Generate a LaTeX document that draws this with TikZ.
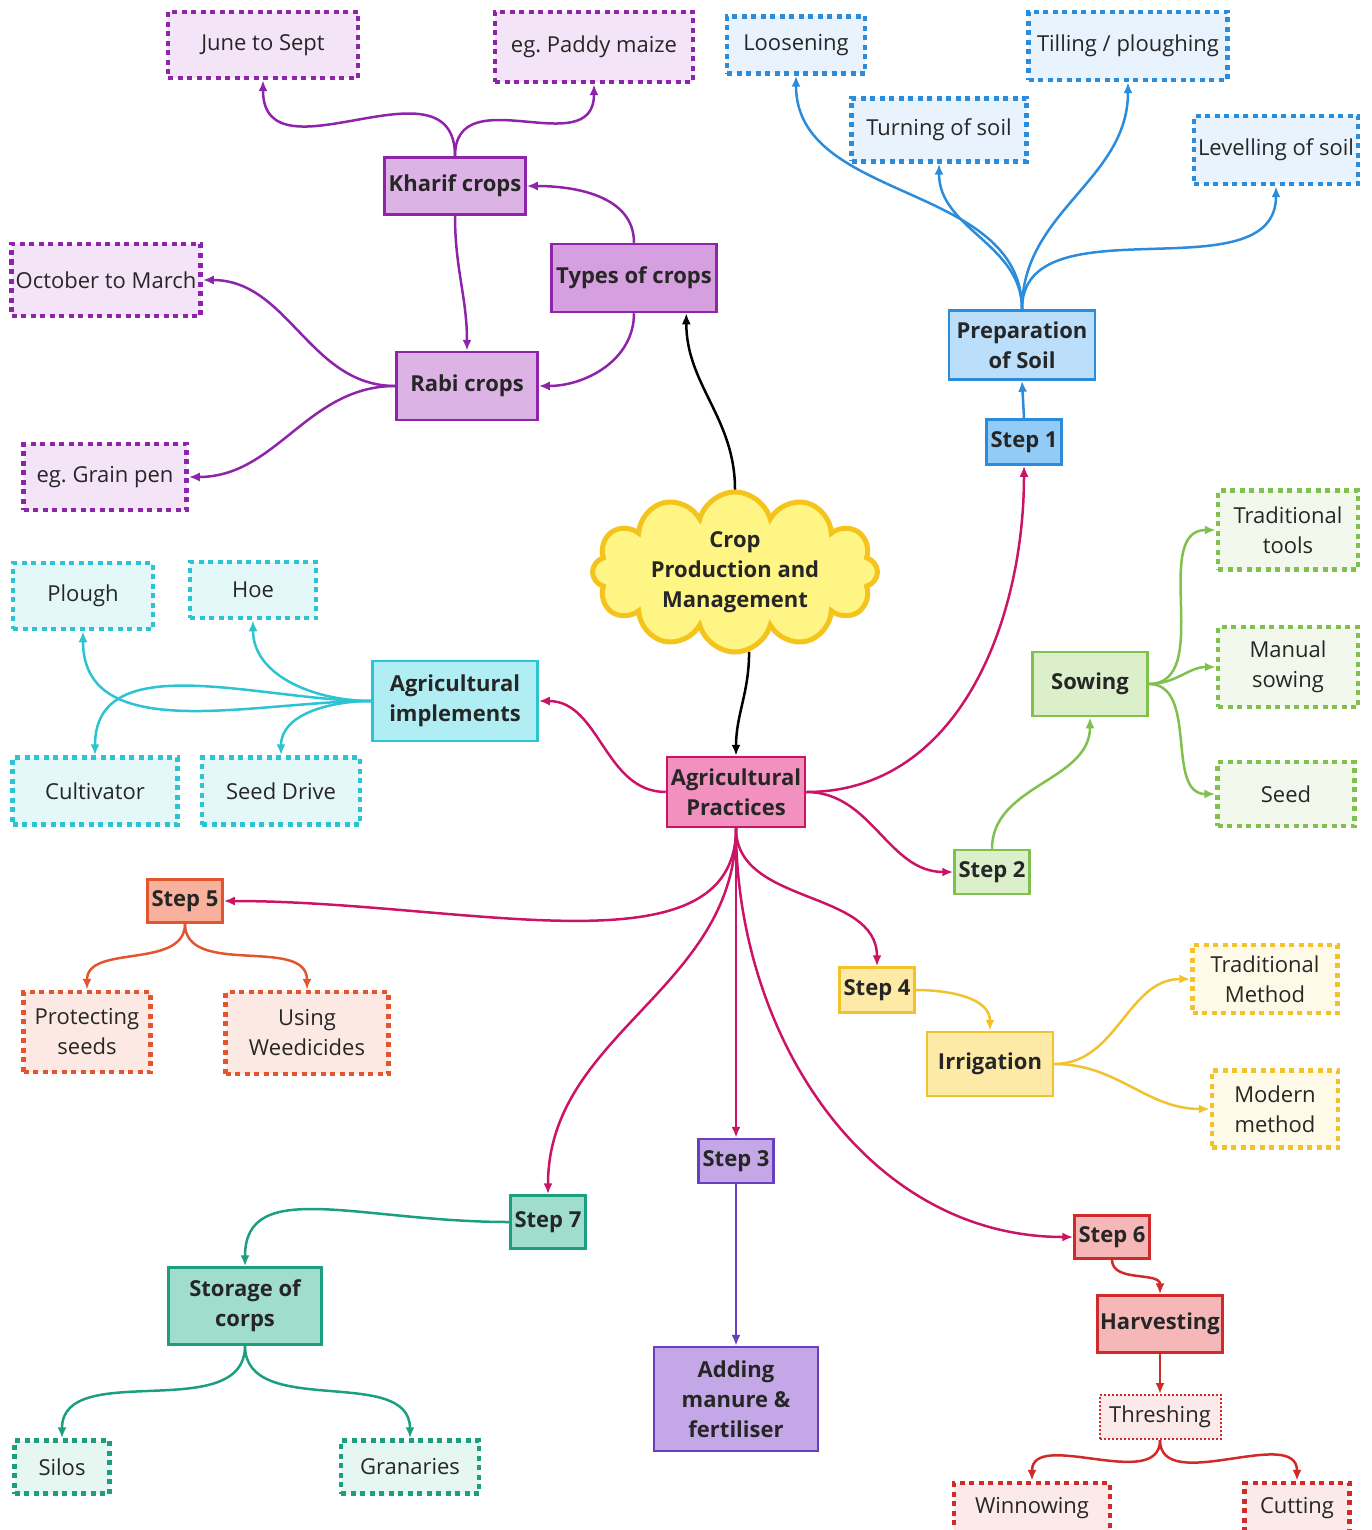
\documentclass[tikz,border=0pt]{standalone}
\usepackage{fontspec}
\setmainfont{Open Sans}
\usetikzlibrary{arrows.meta,shapes.symbols}

\definecolor{purpline}{HTML}{8E24AA}
\definecolor{purpfill}{HTML}{DDB3E5}
\definecolor{purptype}{HTML}{D69FDF}
\definecolor{purpleaf}{HTML}{F4E4F7}
\definecolor{blueline}{HTML}{2A8CDB}
\definecolor{bluefill}{HTML}{BBDEFB}
\definecolor{bluestep}{HTML}{93CBF7}
\definecolor{blueleaf}{HTML}{E8F3FD}
\definecolor{greenline}{HTML}{80C04C}
\definecolor{greenfill}{HTML}{DCEFCB}
\definecolor{greenleaf}{HTML}{F2F9EC}
\definecolor{cyanline}{HTML}{2CC4D2}
\definecolor{cyanfill}{HTML}{B0EEF4}
\definecolor{cyanleaf}{HTML}{E4F8FA}
\definecolor{pinkline}{HTML}{CC1466}
\definecolor{pinkfill}{HTML}{F290BF}
\definecolor{orangeline}{HTML}{E2552F}
\definecolor{orangefill}{HTML}{F7B19D}
\definecolor{orangeleaf}{HTML}{FDE9E3}
\definecolor{yellowline}{HTML}{F2C22C}
\definecolor{yellowfill}{HTML}{FDEAA6}
\definecolor{yellowleaf}{HTML}{FFFAE8}
\definecolor{violetline}{HTML}{6A3FBE}
\definecolor{violetfill}{HTML}{C4A7E6}
\definecolor{tealline}{HTML}{1C9E80}
\definecolor{tealfill}{HTML}{A0DDCC}
\definecolor{tealleaf}{HTML}{E6F6F1}
\definecolor{redline}{HTML}{D12A2A}
\definecolor{redfill}{HTML}{F5B7B7}
\definecolor{redleaf}{HTML}{FCE9E9}
\definecolor{cloudline}{HTML}{F4C41C}
\definecolor{cloudfill}{HTML}{FFF584}

\tikzset{
	box/.style n args={2}{rectangle, draw=#1, fill=#2, line width=2.5pt, align=center, inner sep=2pt, text=black!85, font=\bfseries\fontsize{22}{30}\selectfont},
	leaf/.style n args={2}{rectangle, draw=#1, fill=#2, line width=4.5pt, dash pattern=on 5pt off 4.5pt, align=center, inner sep=2pt, text=black!85, font=\fontsize{22}{30}\selectfont},
	sz/.style 2 args={minimum width=#1, minimum height=#2},
	link/.style={draw=#1, line width=2.5pt, -{Latex[length=11pt,width=9pt]}},
}

\begin{document}
\begin{tikzpicture}[x=1pt, y=-1pt]
	\useasboundingbox (0,0) rectangle (1371,1530);

	%%the centre
	\node[cloud, cloud puffs=12, aspect=1.8, draw=cloudline, fill=cloudfill, line width=5pt, inner xsep=-8pt, inner ysep=-28pt, sz={285}{160}, align=center, text=black!85, font=\bfseries\fontsize{22}{30}\selectfont] (crop) at (735,572){Crop\\Production and\\Management};
	\node[box={pinkline}{pinkfill}, sz={138}{70}] (agri) at (736,792){Agricultural\\Practices};

	%%types of crops
	\node[leaf={purpline}{purpleaf}, sz={190}{66}] (june) at (263,45){June to Sept};
	\node[leaf={purpline}{purpleaf}, sz={198}{70}] (paddy) at (594,47){eg.\ Paddy maize};
	\node[box={purpline}{purpfill}, sz={141}{57}] (kharif) at (455,186){Kharif crops};
	\node[box={purpline}{purptype}, sz={165}{68}] (types) at (634,278){Types of crops};
	\node[leaf={purpline}{purpleaf}, sz={189}{72}] (october) at (106,280){October to March};
	\node[box={purpline}{purpfill}, sz={141}{68}] (rabi) at (467,386){Rabi crops};
	\node[leaf={purpline}{purpleaf}, sz={163}{66}] (grain) at (105,477){eg.\ Grain pen};

	\draw[link=black] (crop.north) to[out=90, in=-90] (types.-34);
	\draw[link=black] (crop.-80) to[out=-90, in=90] (agri.north);
	\draw[link=purpline] (types.north) to[out=90, in=0] (kharif.east);
	\draw[link=purpline] (types.south) to[out=-90, in=0] (rabi.east);
	\draw[link=purpline] (kharif.south) to[out=-90, in=90] (rabi.north);
	\draw[link=purpline] (kharif.north) to[out=90, in=-90, looseness=1.3] (june.south);
	\draw[link=purpline] (kharif.north) to[out=90, in=-90, looseness=1.3] (paddy.south);
	\draw[link=purpline] (rabi.west) to[out=180, in=0] (october.east);
	\draw[link=purpline] (rabi.west) to[out=180, in=0] (grain.east);

	%%step 1
	\node[leaf={blueline}{blueleaf}, sz={138}{57}] (loosen) at (796,45){Loosening};
	\node[leaf={blueline}{blueleaf}, sz={199}{68}] (tilling) at (1128,46){Tilling / ploughing};
	\node[leaf={blueline}{blueleaf}, sz={175}{63}] (turning) at (939,130){Turning of soil};
	\node[leaf={blueline}{blueleaf}, sz={164}{68}] (level) at (1276,150){Levelling of soil};
	\node[box={blueline}{bluefill}, sz={146}{69}] (prep) at (1022,345){Preparation\\of Soil};
	\node[box={blueline}{bluestep}, sz={75}{45}] (stepA) at (1024,442){Step 1};

	\draw[link=pinkline] (agri.east) to[out=0, in=-90] (stepA.south);
	\draw[link=blueline] (stepA.north) to (prep.south);
	\draw[link=blueline] (prep.north) to[out=90, in=-90] (loosen.south);
	\draw[link=blueline] (prep.north) to[out=90, in=-90] (turning.south);
	\draw[link=blueline] (prep.north) to[out=90, in=-90] (tilling.south);
	\draw[link=blueline] (prep.north) to[out=90, in=-90] (level.south);

	%%step 2
	\node[leaf={greenline}{greenleaf}, sz={140}{79}] (tools) at (1288,530){Traditional\\tools};
	\node[leaf={greenline}{greenleaf}, sz={140}{80}] (manual) at (1288,667){Manual\\sowing};
	\node[leaf={greenline}{greenleaf}, sz={137}{64}] (seed) at (1286,794){Seed};
	\node[box={greenline}{greenfill}, sz={115}{64}] (sowing) at (1090,684){Sowing};
	\node[box={greenline}{greenfill}, sz={75}{44}] (stepB) at (992,872){Step 2};

	\draw[link=pinkline] (agri.east) to[out=0, in=180] (stepB.west);
	\draw[link=greenline] (stepB.north) to[out=90, in=-90] (sowing.south);
	\draw[link=greenline] (sowing.east) to[out=0, in=180] (tools.west);
	\draw[link=greenline] (sowing.east) to[out=0, in=180] (manual.west);
	\draw[link=greenline] (sowing.east) to[out=0, in=180] (seed.west);

	%%implements
	\node[leaf={cyanline}{cyanleaf}, sz={140}{66}] (plough) at (83,596){Plough};
	\node[leaf={cyanline}{cyanleaf}, sz={126}{56}] (hoe) at (253,590){Hoe};
	\node[leaf={cyanline}{cyanleaf}, sz={165}{67}] (cultiv) at (95,791){Cultivator};
	\node[leaf={cyanline}{cyanleaf}, sz={158}{67}] (drive) at (281,791){Seed Drive};
	\node[box={cyanline}{cyanfill}, sz={165}{80}] (implem) at (455,701){Agricultural\\implements};

	\draw[link=pinkline] (agri.west) to[out=180, in=0] (implem.east);
	\draw[link=cyanline] (implem.west) to[out=180, in=-90] (plough.south);
	\draw[link=cyanline] (implem.west) to[out=180, in=-90] (hoe.south);
	\draw[link=cyanline] (implem.west) to[out=180, in=90] (cultiv.north);
	\draw[link=cyanline] (implem.west) to[out=180, in=90] (drive.north);

	%%step 5
	\node[box={orangeline}{orangefill}, sz={75}{43}] (stepE) at (185,901){Step 5};
	\node[leaf={orangeline}{orangeleaf}, sz={127}{80}] (protect) at (87,1032){Protecting\\seeds};
	\node[leaf={orangeline}{orangeleaf}, sz={163}{82}] (weed) at (307,1033){Using\\Weedicides};

	\draw[link=pinkline] (agri.south) to[out=-90, in=0, out distance=150, in distance=240] (stepE.east);
	\draw[link=orangeline] (stepE.south) to[out=-90, in=90] (protect.north);
	\draw[link=orangeline] (stepE.south) to[out=-90, in=90] (weed.north);

	%%step 4
	\node[box={yellowline}{yellowfill}, sz={75}{45}] (stepD) at (877,990){Step 4};
	\node[box={yellowline}{yellowfill}, sz={126}{64}] (irrig) at (990,1064){Irrigation};
	\node[leaf={yellowline}{yellowleaf}, sz={145}{68}] (tradmeth) at (1265,979){Traditional\\Method};
	\node[leaf={yellowline}{yellowleaf}, sz={126}{77}] (modern) at (1275,1109){Modern\\method};

	\draw[link=pinkline] (agri.south) to[out=-90, in=90] (stepD.north);
	\draw[link=yellowline] (stepD.east) to[out=0, in=90] (irrig.north);
	\draw[link=yellowline] (irrig.east) to[out=0, in=180] (tradmeth.west);
	\draw[link=yellowline] (irrig.east) to[out=0, in=180] (modern.west);

	%%step 3
	\node[box={violetline}{violetfill}, sz={75}{44}] (stepC) at (736,1161){Step 3};
	\node[box={violetline}{violetfill}, sz={164}{104}] (manure) at (736,1399){Adding\\manure \&\\fertiliser};

	\draw[link=pinkline] (agri.south) to (stepC.north);
	\draw[link=violetline] (stepC.south) to (manure.north);

	%%step 7
	\node[box={tealline}{tealfill}, sz={75}{53}] (stepG) at (548,1222){Step 7};
	\node[box={tealline}{tealfill}, sz={153}{77}] (storage) at (245,1306){Storage of\\corps};
	\node[leaf={tealline}{tealleaf}, sz={95}{53}] (silos) at (62,1467){Silos};
	\node[leaf={tealline}{tealleaf}, sz={138}{53}] (granary) at (410,1467){Granaries};

	\draw[link=pinkline] (agri.south) to[out=-90, in=90] (stepG.north);
	\draw[link=tealline] (stepG.west) to[out=180, in=90, out distance=150, in distance=90] (storage.north);
	\draw[link=tealline] (storage.south) to[out=-90, in=90] (silos.north);
	\draw[link=tealline] (storage.south) to[out=-90, in=90] (granary.north);

	%%step 6
	\node[box={redline}{redfill}, sz={75}{43}] (stepF) at (1112,1237){Step 6};
	\node[box={redline}{redfill}, sz={125}{57}] (harvest) at (1160,1324){Harvesting};
	\node[leaf={redline}{redleaf}, line width=2pt, dash pattern=on 2pt off 2pt, sz={121}{44}] (thresh) at (1160,1417){Threshing};
	\node[leaf={redline}{redleaf}, sz={156}{50}] (winnow) at (1032,1508){Winnowing};
	\node[leaf={redline}{redleaf}, sz={105}{50}] (cutting) at (1297,1508){Cutting};

	\draw[link=pinkline] (agri.south) to[out=-90, in=180] (stepF.west);
	\draw[link=redline] (stepF.south) to[out=-90, in=90] (harvest.north);
	\draw[link=redline] (harvest.south) to (thresh.north);
	\draw[link=redline] (thresh.south) to[out=-90, in=90] (winnow.north);
	\draw[link=redline] (thresh.south) to[out=-90, in=90] (cutting.north);
\end{tikzpicture}
\end{document}
